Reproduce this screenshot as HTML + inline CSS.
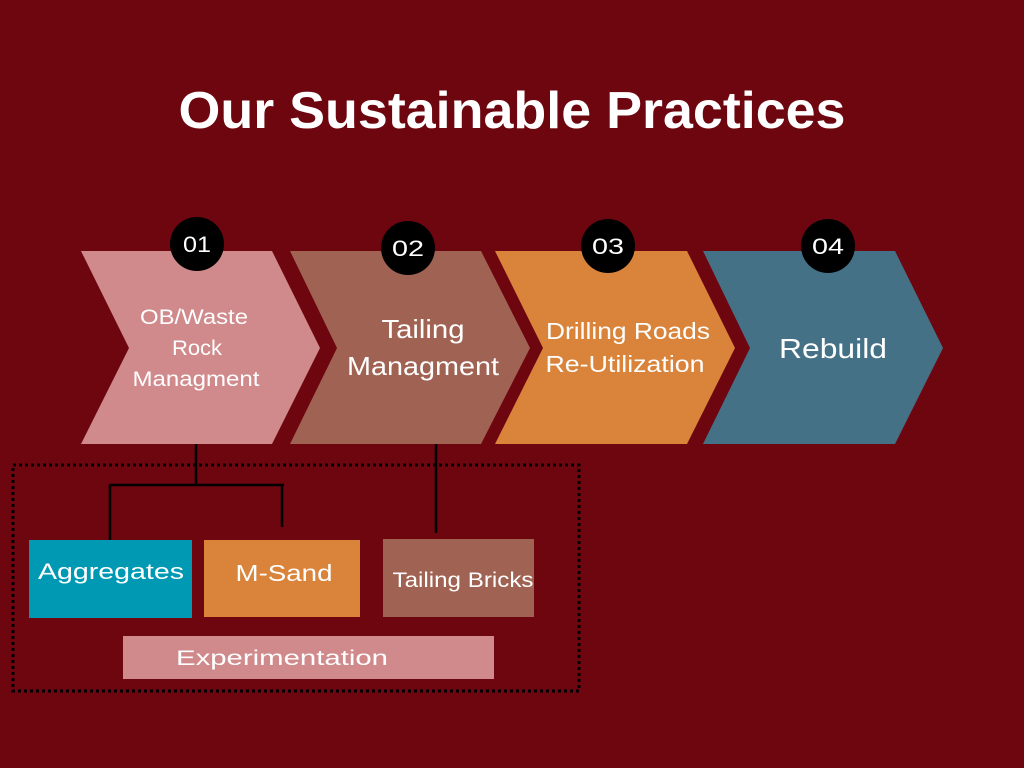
<!DOCTYPE html>
<html><head><style>
body{margin:0;width:1024px;height:768px;background:#6e0610;overflow:hidden;font-family:"Liberation Sans",sans-serif;}
</style></head><body>
<svg width="1024" height="768" xmlns="http://www.w3.org/2000/svg" style="position:absolute;left:0;top:0">
<rect width="1024" height="768" fill="#6e0610"/>
<text x="512" y="128" text-anchor="middle" font-family="Liberation Sans, sans-serif" font-weight="bold" font-size="52" fill="#fff" textLength="667" lengthAdjust="spacingAndGlyphs">Our Sustainable Practices</text>
<polygon points="81,251 272,251 320,348 272,444 81,444 129,348" fill="#d08a8c"/>
<polygon points="290,251 481,251 530,348 481,444 290,444 337,348" fill="#a06252"/>
<polygon points="495,251 687,251 735,348 687,444 495,444 543,348" fill="#d9843a"/>
<polygon points="703,251 895,251 943,348 895,444 703,444 750,348" fill="#447186"/>
<g fill="#000"><circle cx="197" cy="244" r="27"/><circle cx="408" cy="248" r="27"/><circle cx="608" cy="246" r="27"/><circle cx="828" cy="246" r="27"/></g>
<g fill="#fff" font-size="22" text-anchor="middle" font-family="Liberation Sans, sans-serif">
<text x="197" y="252" textLength="28" lengthAdjust="spacingAndGlyphs">01</text><text x="408" y="256" textLength="32" lengthAdjust="spacingAndGlyphs">02</text><text x="608" y="254" textLength="32" lengthAdjust="spacingAndGlyphs">03</text><text x="828" y="254" textLength="32" lengthAdjust="spacingAndGlyphs">04</text>
</g>
<g fill="#fff" text-anchor="middle" font-family="Liberation Sans, sans-serif" lengthAdjust="spacingAndGlyphs">
<text x="194" y="324" font-size="21" textLength="108" lengthAdjust="spacingAndGlyphs">OB/Waste</text>
<text x="197" y="355" font-size="21" textLength="50" lengthAdjust="spacingAndGlyphs">Rock</text>
<text x="196" y="386" font-size="21" textLength="127" lengthAdjust="spacingAndGlyphs">Managment</text>
<text x="423" y="338" font-size="26" textLength="83" lengthAdjust="spacingAndGlyphs">Tailing</text>
<text x="423" y="375" font-size="26" textLength="152" lengthAdjust="spacingAndGlyphs">Managment</text>
<text x="628" y="339" font-size="23" textLength="164" lengthAdjust="spacingAndGlyphs">Drilling Roads</text>
<text x="625" y="372" font-size="23" textLength="159" lengthAdjust="spacingAndGlyphs">Re-Utilization</text>
<text x="833" y="358" font-size="28" textLength="108" lengthAdjust="spacingAndGlyphs">Rebuild</text>
</g>
<g stroke="#000" stroke-width="2.5" fill="none">
<line x1="196" y1="444" x2="196" y2="485"/>
<line x1="110" y1="485" x2="284" y2="485"/>
<line x1="110" y1="484" x2="110" y2="540"/>
<line x1="282" y1="484" x2="282" y2="527"/>
<line x1="436" y1="444" x2="436" y2="533"/>
</g>
<rect x="13" y="465" width="566" height="226" fill="none" stroke="#000" stroke-width="3" stroke-dasharray="3,3"/>
<rect x="29" y="540" width="163" height="78" fill="#0099b4"/>
<rect x="204" y="540" width="156" height="77" fill="#d9843a"/>
<rect x="383" y="539" width="151" height="78" fill="#a06252"/>
<rect x="123" y="636" width="371" height="43" fill="#d08a8c"/>
<g fill="#fff" text-anchor="middle" font-family="Liberation Sans, sans-serif">
<text x="111" y="579" font-size="22" textLength="146" lengthAdjust="spacingAndGlyphs">Aggregates</text>
<text x="284" y="581" font-size="23" textLength="97" lengthAdjust="spacingAndGlyphs">M-Sand</text>
<text x="463" y="587" font-size="21" textLength="141" lengthAdjust="spacingAndGlyphs">Tailing Bricks</text>
<text x="282" y="665" font-size="21" textLength="212" lengthAdjust="spacingAndGlyphs">Experimentation</text>
</g>
</svg>
</body></html>
